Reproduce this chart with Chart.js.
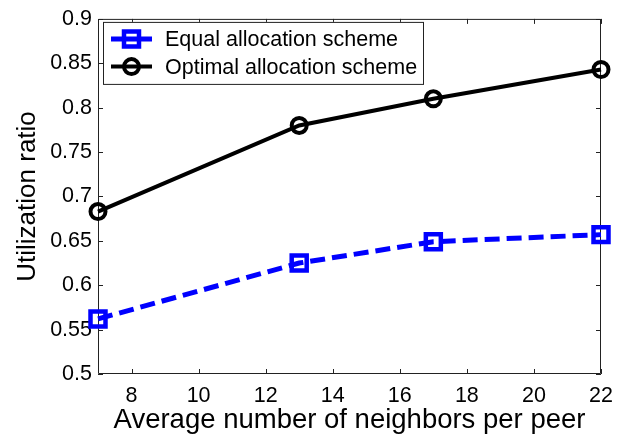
<!DOCTYPE html>
<html>
<head>
<meta charset="utf-8">
<script src="https://cdn.jsdelivr.net/npm/chart.js@4.4.1/dist/chart.umd.min.js"></script>
<style>
  html, body { margin: 0; padding: 0; background: #fff; }
  #wrap { width: 631px; height: 437px; }
</style>
</head>
<body>
<div id="wrap"><canvas id="chart" width="631" height="437"></canvas></div>
<script>
const neighbors = [7, 13, 17, 22]
const equalScheme = [0.562, 0.625, 0.649, 0.657]
const optimalScheme = [0.683, 0.780, 0.810, 0.843]
const xTicks = [8, 10, 12, 14, 16, 18, 20, 22]
const yTicks = [0.5, 0.55, 0.6, 0.65, 0.7, 0.75, 0.8, 0.85, 0.9]
const yTickLabels = ["0.5", "0.55", "0.6", "0.65", "0.7", "0.75", "0.8", "0.85", "0.9"]
const seriesNames = ["Equal allocation scheme", "Optimal allocation scheme"]

const FONT = "'Liberation Sans', Arial, sans-serif"
const toPoints = (ys) => neighbors.map((x, i) => ({ x, y: ys[i] }))

// MATLAB style box with inward ticks on all four sides
const frame = {
  id: "frame",
  beforeDatasetsDraw(chart) {
    const { ctx, chartArea: a, scales } = chart
    ctx.save()
    ctx.strokeStyle = "#222"
    ctx.lineWidth = 1
    ctx.beginPath()
    ctx.rect(a.left + 0.5, a.top + 0.5, a.right - a.left - 1, a.bottom - a.top - 1)
    const len = 5
    xTicks.forEach((v) => {
      const px = Math.round(scales.x.getPixelForValue(v)) + 0.5
      ctx.moveTo(px, a.bottom); ctx.lineTo(px, a.bottom - len)
      ctx.moveTo(px, a.top); ctx.lineTo(px, a.top + len)
    })
    yTicks.forEach((v) => {
      const py = Math.round(scales.y.getPixelForValue(v)) + 0.5
      ctx.moveTo(a.left, py); ctx.lineTo(a.left + len, py)
      ctx.moveTo(a.right, py); ctx.lineTo(a.right - len, py)
    })
    ctx.stroke()
    ctx.restore()
  }
}

// legend box in the top-left corner of the plot, line + marker samples
const boxLegend = {
  id: "boxLegend",
  afterDraw(chart) {
    const { ctx, chartArea: a } = chart
    const left = a.left + 5, top = a.top + 3, w = 320, h = 62
    ctx.save()
    ctx.fillStyle = "#fff"
    ctx.fillRect(left, top, w, h)
    ctx.strokeStyle = "#222"
    ctx.lineWidth = 1
    ctx.strokeRect(left + 0.5, top + 0.5, w, h)
    chart.data.datasets.forEach((ds, i) => {
      const cy = top + 17 + i * 27.7
      const x0 = left + 8, x1 = left + 49, cx = (x0 + x1) / 2
      ctx.strokeStyle = ds.borderColor
      ctx.lineWidth = ds.borderWidth
      ctx.setLineDash([])
      ctx.beginPath(); ctx.moveTo(x0, cy); ctx.lineTo(x1, cy); ctx.stroke()
      ctx.lineWidth = ds.pointBorderWidth
      ctx.beginPath()
      if (ds.pointStyle === "rect") {
        const s = Math.SQRT1_2 * ds.pointRadius
        ctx.rect(cx - s, cy - s, 2 * s, 2 * s)
      } else {
        ctx.arc(cx, cy, ds.pointRadius, 0, Math.PI * 2)
      }
      ctx.stroke()
      ctx.fillStyle = "#000"
      ctx.font = "21.5px " + FONT
      ctx.textBaseline = "middle"
      ctx.fillText(ds.label, left + 62, cy + 1)
    })
    ctx.restore()
  }
}

new Chart(document.getElementById("chart"), {
  type: "line",
  data: {
    datasets: [{
      label: seriesNames[0],
      data: toPoints(equalScheme),
      borderColor: "#0000ff",
      borderWidth: 5,
      borderDash: [15, 7],
      pointStyle: "rect",
      pointRadius: 10.6,
      pointBorderWidth: 4.5,
      pointBorderColor: "#0000ff",
      pointBackgroundColor: "transparent",
      clip: false
    }, {
      label: seriesNames[1],
      data: toPoints(optimalScheme),
      borderColor: "#000000",
      borderWidth: 4,
      pointStyle: "circle",
      pointRadius: 7.5,
      pointBorderWidth: 4,
      pointBorderColor: "#000000",
      pointBackgroundColor: "transparent",
      clip: false
    }]
  },
  options: {
    responsive: false,
    animation: false,
    events: [],
    layout: { padding: { left: 0, right: 30, top: 14, bottom: 0 } },
    plugins: {
      legend: { display: false },
      tooltip: { enabled: false }
    },
    scales: {
      x: {
        type: "linear",
        min: 7,
        max: 22,
        afterBuildTicks: (scale) => { scale.ticks = xTicks.map((v) => ({ value: v })) },
        afterFit: (scale) => { scale.height = 63 },
        grid: { drawOnChartArea: false, drawTicks: false },
        border: { display: false },
        ticks: {
          color: "#000",
          padding: 9,
          maxRotation: 0,
          font: { family: FONT, size: 21.5 }
        },
        title: {
          display: true,
          text: "Average number of neighbors per peer",
          color: "#000",
          font: { family: FONT, size: 27.5 },
          padding: { top: 0, bottom: 0 }
        }
      },
      y: {
        min: 0.5,
        max: 0.9,
        afterBuildTicks: (scale) => { scale.ticks = yTicks.map((v) => ({ value: v })) },
        afterFit: (scale) => { scale.width = 98 },
        grid: { drawOnChartArea: false, drawTicks: false },
        border: { display: false },
        ticks: {
          color: "#000",
          padding: 6,
          font: { family: FONT, size: 21.5 },
          callback: (value, index) => yTickLabels[index]
        },
        title: {
          display: true,
          text: "Utilization ratio",
          color: "#000",
          font: { family: FONT, size: 26 },
          padding: { top: 12, bottom: 0 }
        }
      }
    }
  },
  plugins: [frame, boxLegend]
})
</script>
</body>
</html>
